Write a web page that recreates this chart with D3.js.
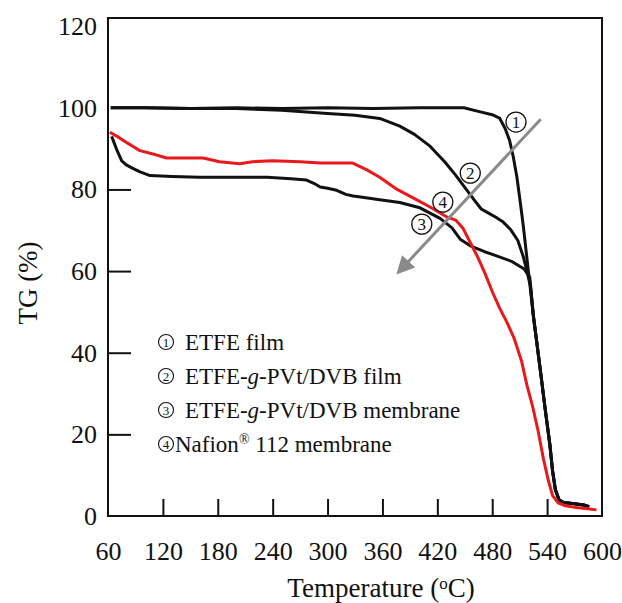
<html lang="en">
<head>
<meta charset="UTF-8">
<title>TG curves</title>
<script src="https://d3js.org/d3.v7.min.js"></script>
<style>
    body { margin: 0; background: #fff; }
    svg { font-family: "Liberation Serif", "Times New Roman", serif; }
    .tick text { font-size: 26px; fill: #111; font-family: "Liberation Serif", "Times New Roman", serif; }
</style>
</head>
<body>
<svg width="622" height="603"></svg>
<script>
    // values (temperature in oC, TG in %)
    const tempTicks = [60, 120, 180, 240, 300, 360, 420, 480, 540, 600];
    const tgTicks = [0, 20, 40, 60, 80, 100, 120];

    const etfeFilmT = [63, 100, 150, 200, 250, 300, 350, 400, 449, 467, 480, 488, 494, 499, 503, 507, 510, 514, 517, 520, 522, 525, 529, 533, 538, 543, 546, 549, 553, 558, 570, 580, 586];
    const etfeFilmTG = [100, 100, 99.8, 100, 99.8, 100, 99.8, 100, 100, 99, 98.3, 97.5, 95, 92, 88, 83, 78, 71, 65, 59, 56, 49, 42, 35, 26, 17.5, 11, 6.5, 4, 3.3, 3, 2.7, 2.3];

    const graftFilmT = [63, 100, 150, 200, 250, 300, 330, 357, 379, 395, 412, 428, 440, 450, 460, 468, 476, 484, 492, 500, 508, 514, 518, 521, 525, 529, 533, 538, 543, 546, 549, 553, 558, 570, 580, 586];
    const graftFilmTG = [100, 100, 99.8, 99.8, 99.4, 98.6, 98.2, 97.4, 95.5, 93.5, 90.6, 86.8, 83.5, 80.5, 77.5, 75.2, 74.2, 73.2, 72, 70.2, 67.5, 63.5, 60, 57, 49, 42, 35, 26, 17.5, 11, 6.5, 4, 3.3, 3, 2.7, 2.3];

    const graftMemT = [64, 70, 75, 80, 86, 95, 106, 130, 160, 200, 234, 260, 277, 285, 292, 300, 310, 320, 328, 340, 357, 379, 401, 423, 436, 445, 456, 471, 484, 501, 515, 521, 525, 529, 533, 538, 543, 546, 549, 553, 558, 570, 580, 586];
    const graftMemTG = [93, 89.5, 87, 86, 85.3, 84.3, 83.4, 83.2, 83, 83, 83, 82.6, 82.3, 81.5, 80.6, 80.3, 79.8, 78.8, 78.4, 78, 77.5, 76.8, 75.5, 72.9, 70.6, 67.8, 66.2, 64.8, 63.8, 62.4, 60.5, 58.5, 49, 42, 35, 26, 17.5, 11, 6.5, 4, 3.3, 3, 2.7, 2.3];

    const nafionT = [62, 70, 81, 95, 109, 124, 145, 164, 182, 204, 218, 240, 270, 292, 327, 343, 357, 376, 393, 412, 430, 440, 448, 456, 464, 472, 480, 488, 496, 504, 512, 518, 524, 530, 536, 541, 546, 552, 560, 572, 584, 594];
    const nafionTG = [94, 93, 91.4, 89.5, 88.7, 87.7, 87.7, 87.7, 86.8, 86.3, 86.8, 87, 86.8, 86.5, 86.5, 84.8, 83, 80, 78, 75.7, 73.3, 72.5, 70.5, 67, 63.5, 59.5, 55, 51, 47.5, 43.5, 38, 32, 27, 21, 14, 9, 5, 3.2, 2.5, 2.1, 1.8, 1.5];

    const legendItems = ["ETFE film", "ETFE-g-PVt/DVB film", "ETFE-g-PVt/DVB membrane", "Nafion® 112 membrane"];
    const markerNums = ["1", "2", "3", "4"];
    const markerT = [506, 456, 403, 426];
    const markerTG = [96.5, 84, 71.5, 76.9];
    const arrowT = [533, 375];
    const arrowTG = [97.2, 59.3];

    const svg = d3.select("svg");

    const x = d3.scaleLinear().domain([60, 600]).range([108, 602]);
    const y = d3.scaleLinear().domain([0, 122]).range([516, 18]);

    // x axis: inner ticks, labels below
    const xAxis = svg.append("g")
        .attr("transform", `translate(0,${y(0)})`)
        .call(d3.axisBottom(x).tickValues(tempTicks).tickSizeInner(-17).tickSizeOuter(0).tickPadding(26));
    xAxis.attr("font-family", null).attr("font-size", null);
    xAxis.select(".domain").remove();
    xAxis.selectAll(".tick line").attr("stroke", "#111").attr("stroke-width", 2)
        .filter(d => d === 60 || d === 600).remove();

    const yAxis = svg.append("g")
        .attr("transform", `translate(${x(60)},0)`)
        .call(d3.axisLeft(y).tickValues(tgTicks).tickSizeInner(-23).tickSizeOuter(0).tickPadding(11));
    yAxis.attr("font-family", null).attr("font-size", null);
    yAxis.select(".domain").remove();
    yAxis.selectAll(".tick line").attr("stroke", "#111").attr("stroke-width", 2)
        .filter(d => d === 0 || d >= 100).remove();

    // frame
    svg.append("rect")
        .attr("x", x(60)).attr("y", y(122))
        .attr("width", x(600) - x(60)).attr("height", y(0) - y(122))
        .attr("fill", "none").attr("stroke", "#111").attr("stroke-width", 2);

    const line = d3.line().x(d => x(d[0])).y(d => y(d[1])).curve(d3.curveLinear);
    const series = [
        {t: etfeFilmT, v: etfeFilmTG, color: "#111"},
        {t: graftFilmT, v: graftFilmTG, color: "#111"},
        {t: graftMemT, v: graftMemTG, color: "#111"},
        {t: nafionT, v: nafionTG, color: "#e8191c"}
    ];
    series.forEach(s => {
        svg.append("path")
            .datum(d3.zip(s.t, s.v))
            .attr("d", line)
            .attr("fill", "none")
            .attr("stroke", s.color)
            .attr("stroke-width", 3)
            .attr("stroke-linejoin", "round");
    });

    // gray arrow
    svg.append("defs").append("marker")
        .attr("id", "head").attr("viewBox", "0 0 10 10")
        .attr("refX", 2).attr("refY", 5)
        .attr("markerWidth", 7).attr("markerHeight", 6)
        .attr("orient", "auto")
        .append("path").attr("d", "M0,0L10,5L0,10Z").attr("fill", "#8a8a8a");
    svg.append("line")
        .attr("x1", x(arrowT[0])).attr("y1", y(arrowTG[0]))
        .attr("x2", x(arrowT[1]) + 10).attr("y2", y(arrowTG[1]) - 10)
        .attr("stroke", "#8a8a8a").attr("stroke-width", 3)
        .attr("marker-end", "url(#head)");

    // circled numbers on the curves
    const marks = svg.append("g");
    markerNums.forEach((n, i) => {
        const g = marks.append("g").attr("transform", `translate(${x(markerT[i])},${y(markerTG[i])})`);
        g.append("circle").attr("r", 10).attr("fill", "none").attr("stroke", "#111").attr("stroke-width", 1.3);
        g.append("text").attr("text-anchor", "middle").attr("dy", "0.35em")
            .attr("font-size", 17).attr("fill", "#111").text(n);
    });

    // legend
    const legend = svg.append("g").attr("transform", "translate(166,342)");
    legendItems.forEach((label, i) => {
        const g = legend.append("g").attr("transform", `translate(0,${i * 34})`);
        g.append("circle").attr("r", 7.5).attr("fill", "none").attr("stroke", "#111").attr("stroke-width", 1.1);
        g.append("text").attr("text-anchor", "middle").attr("dy", "0.35em")
            .attr("font-size", 13).attr("fill", "#111").text(markerNums[i]);
        const t = g.append("text").attr("x", i === 3 ? 9 : 19).attr("dy", "0.35em")
            .attr("font-size", 23).attr("fill", "#111");
        if (label.includes("-g-")) {
            const parts = label.split("-g-");
            t.append("tspan").text(parts[0] + "-");
            t.append("tspan").attr("font-style", "italic").text("g");
            t.append("tspan").text("-" + parts[1]);
        } else if (label.includes("®")) {
            const parts = label.split("®");
            t.append("tspan").text(parts[0]);
            t.append("tspan").attr("font-size", 14).attr("dy", "-0.55em").text("®");
            t.append("tspan").attr("dy", "0.35em").text(parts[1]);
        } else {
            t.text(label);
        }
    });

    // axis titles
    const xl = svg.append("text").attr("x", 381).attr("y", 597)
        .attr("text-anchor", "middle").attr("font-size", 27).attr("fill", "#111");
    xl.append("tspan").text("Temperature (");
    xl.append("tspan").attr("font-size", 17).attr("dy", "-0.5em").text("o");
    xl.append("tspan").attr("dy", "0.33em").text("C)");

    svg.append("text")
        .attr("transform", "translate(37,283) rotate(-90)")
        .attr("text-anchor", "middle").attr("font-size", 27).attr("fill", "#111")
        .text("TG (%)");
</script>
</body>
</html>
